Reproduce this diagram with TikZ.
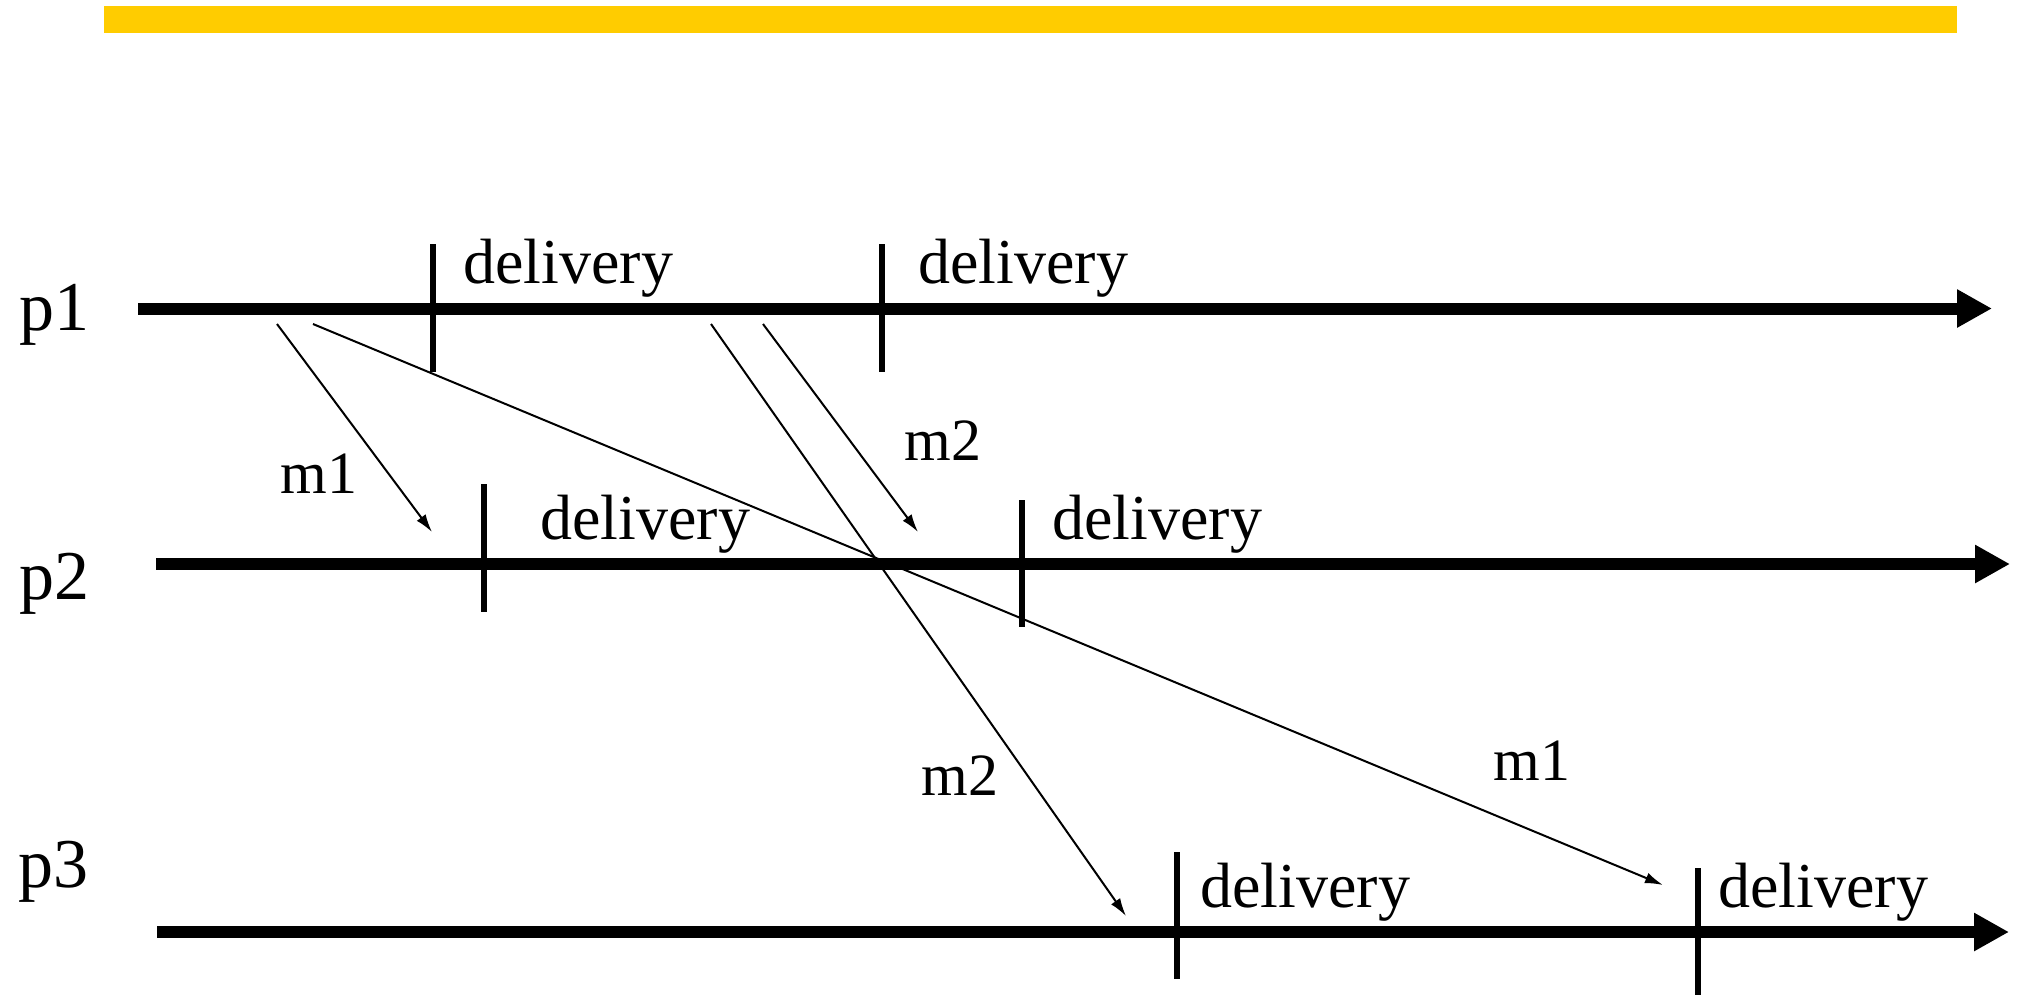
\documentclass[tikz,border=0pt]{standalone}
\usepackage{fontspec}
\setmainfont{Liberation Serif}
\usetikzlibrary{arrows.meta}
\definecolor{barcol}{HTML}{FFCC00}
\begin{document}
\begin{tikzpicture}[x=0.5pt,y=-0.5pt,
 timeline/.style={line width=6pt,-{Triangle[length=17.5pt,width=18pt]}},
 dtick/.style={line width=3pt},
 msg/.style={line width=1pt,-{Latex[length=9pt,width=5.5pt]}},
 lbl/.style={anchor=base west,inner sep=0pt,font=\fontsize{30}{36}\selectfont},
 plbl/.style={lbl,font=\fontsize{35}{42}\selectfont},
 dlbl/.style={lbl,font=\fontsize{32}{38}\selectfont}]
\useasboundingbox (0,0) rectangle (2034,997);
\fill[barcol] (104,6) rectangle (1957,33);
% process labels
\node[plbl] (p1) at (19,330) {p1};
\node[plbl] (p2) at (19,599) {p2};
\node[plbl] (p3) at (18,887) {p3};
% timelines
\coordinate (a1) at (138,308.5); \coordinate (b1) at (1992,308.5);
\coordinate (a2) at (156,564); \coordinate (b2) at (2010,564);
\coordinate (a3) at (157,932); \coordinate (b3) at (2009,932);
\draw[timeline] (a1) -- (b1);
\draw[timeline] (a2) -- (b2);
\draw[timeline] (a3) -- (b3);
% delivery ticks
\draw[dtick] (433,244) -- (433,372);
\draw[dtick] (882,244) -- (882,372);
\draw[dtick] (484,484) -- (484,612);
\draw[dtick] (1022,500) -- (1022,627);
\draw[dtick] (1177,852) -- (1177,979);
\draw[dtick] (1698,868) -- (1698,995);
% delivery labels
\node[dlbl] (d11) at (463,283) {delivery};
\node[dlbl] (d12) at (918,283) {delivery};
\node[dlbl] (d21) at (540,539) {delivery};
\node[dlbl] (d22) at (1052,539) {delivery};
\node[dlbl] (d31) at (1200,907) {delivery};
\node[dlbl] (d32) at (1718,907) {delivery};
% messages
\coordinate (s1a) at (277,324); \coordinate (e1a) at (432,532);
\coordinate (s1b) at (313,324); \coordinate (e1b) at (1663,885);
\coordinate (s2a) at (763,324); \coordinate (e2a) at (918,532);
\coordinate (s2b) at (711,324); \coordinate (e2b) at (1126,916);
\draw[msg] (s1a) -- (e1a);
\draw[msg] (s1b) -- (e1b);
\draw[msg] (s2a) -- (e2a);
\draw[msg] (s2b) -- (e2b);
% message labels
\node[lbl] (m1a) at (280,493) {m1};
\node[lbl] (m2a) at (904,460) {m2};
\node[lbl] (m2b) at (921,795) {m2};
\node[lbl] (m1b) at (1493,780) {m1};
\end{tikzpicture}
\end{document}
